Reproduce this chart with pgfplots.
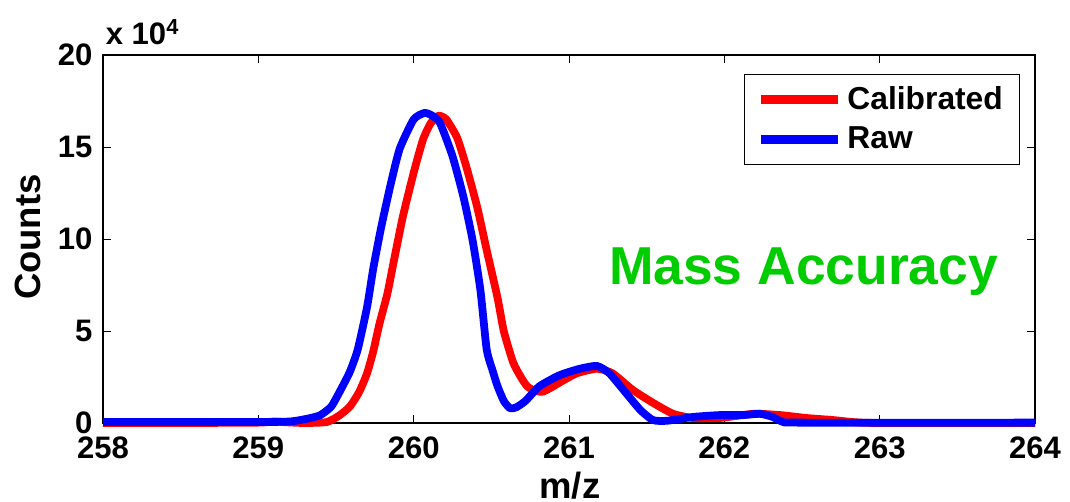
\documentclass[border=0pt]{standalone}
\usepackage{pgfplots}
\pgfplotsset{compat=1.18}
\usepackage{fontspec}
\setmainfont{Liberation Sans}
\definecolor{massgreen}{RGB}{0,204,0}
\begin{document}
\begin{tikzpicture}[x=0.425pt,y=0.425pt]
\useasboundingbox (0,0) rectangle (1070,502);
\begin{axis}[
  at={(43.775pt,33.575pt)}, anchor=south west,
  scale only axis, width=396.1pt, height=156.4pt,
  xmin=258, xmax=264, ymin=0, ymax=20,
  clip=false,
  xtick={258,259,...,264}, ytick={0,5,10,15,20},
  scaled ticks=false,
  tick pos=both, tick align=inside,
  major tick length=3.2pt,
  tick style={black, line width=0.4pt},
  axis line style={black, line width=0.9pt},
  /pgf/number format/assume math mode=true,
  ticklabel style={font=\fontsize{13.2}{15}\selectfont\bfseries},
  xticklabel style={yshift=-2.5pt},
  yticklabel style={xshift=-1pt},
  xlabel={m/z}, ylabel={Counts},
  label style={font=\fontsize{15.5}{18}\selectfont\bfseries},
  xlabel style={at={(axis description cs:0.501,-0.2065)}, anchor=base},
  ylabel style={at={(axis description cs:-0.0805,0.505)}, anchor=center, rotate=0},
  legend cell align=left,
  legend style={at={(rel axis cs:0.9839,0.9484)}, anchor=north east,
    draw=black, line width=0.6pt, font=\fontsize{13.5}{15}\selectfont\bfseries,
    inner xsep=5pt, inner ysep=3pt, row sep=2pt},
  legend image code/.code={\draw[#1, line width=3.8pt] (0pt,0pt) -- (33pt,0pt);},
]
\addplot[red, line width=3.3pt, line join=round, smooth, tension=0.35] coordinates {
(258,0) (258.5,0) (259.0,0.02) (259.1,0.08) (259.2,0.03) (259.3,0.0)
(259.44,0.05) (259.52,0.4) (259.59,0.9) (259.65,1.7) (259.70,2.7) (259.74,3.9)
(259.78,5.4) (259.83,7.0) (259.87,8.7) (259.93,11.2) (260.00,13.6) (260.06,15.4)
(260.11,16.3) (260.16,16.7) (260.21,16.5) (260.28,15.5) (260.34,13.9) (260.41,11.7)
(260.47,9.4) (260.54,6.8) (260.58,5.0) (260.64,3.3) (260.69,2.5) (260.73,2.0)
(260.78,1.75) (260.83,1.7) (260.88,1.9) (260.94,2.2) (261.05,2.7) (261.18,2.95)
(261.28,2.7) (261.41,1.8) (261.54,1.1) (261.67,0.5) (261.80,0.27) (261.97,0.27)
(262.19,0.5) (262.36,0.43) (262.53,0.27) (262.70,0.16) (262.83,0.05) (263,0) (264,0)
};
\addlegendentry{Calibrated}
\addplot[blue, line width=3.3pt, line join=round, smooth, tension=0.35] coordinates {
(258,0.05) (259.0,0.05) (259.2,0.08) (259.27,0.16) (259.34,0.28) (259.40,0.43)
(259.47,0.9) (259.53,1.8) (259.59,2.8) (259.64,4.0) (259.70,6.3) (259.74,8.4)
(259.79,10.6) (259.85,12.9) (259.91,14.9) (260.00,16.5) (260.07,16.85) (260.12,16.7)
(260.17,16.3) (260.25,14.5) (260.32,12.3) (260.38,9.9) (260.43,7.2) (260.47,4.0)
(260.51,2.8) (260.54,2.0) (260.58,1.2) (260.62,0.8) (260.66,0.85) (260.72,1.2)
(260.81,2.0) (260.94,2.6) (261.07,2.95) (261.18,3.1) (261.26,2.7) (261.37,1.6)
(261.46,0.7) (261.54,0.16) (261.63,0.12) (261.80,0.33) (261.97,0.43) (262.12,0.43)
(262.23,0.5) (262.31,0.33) (262.38,0.05) (262.5,0.02) (264,0.02)
};
\addlegendentry{Raw}
\node[anchor=base west, inner sep=0pt, text=massgreen, font=\fontsize{22.7}{26}\selectfont\bfseries]
  at (axis cs:261.255,7.55) {Mass Accuracy};
\node[anchor=base west, inner sep=0pt, font=\fontsize{13.2}{15}\selectfont\bfseries]
  at ([xshift=1pt,yshift=4.25pt]rel axis cs:0,1) {x 10\textsuperscript{4}};
\end{axis}
\end{tikzpicture}
\end{document}
